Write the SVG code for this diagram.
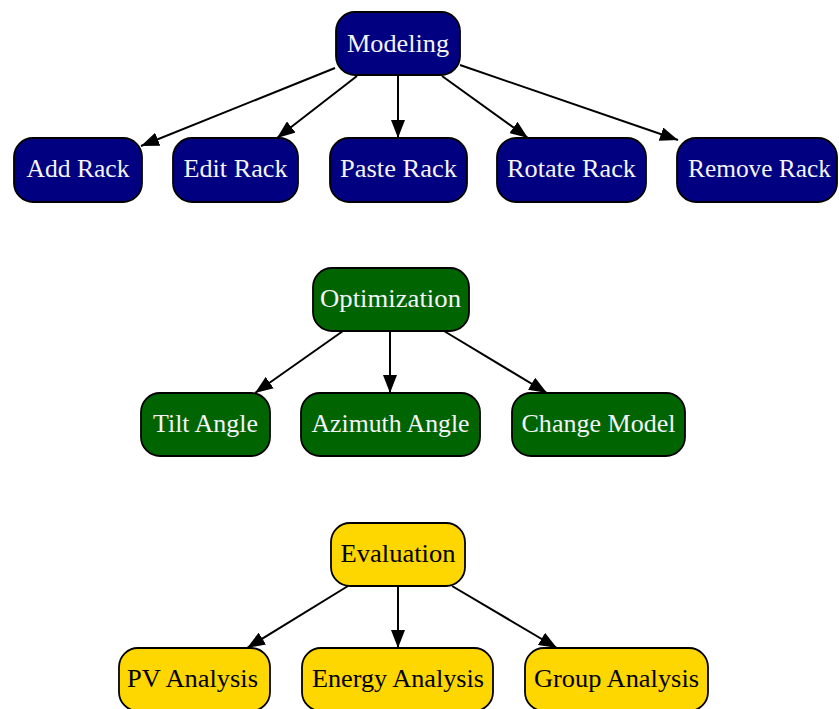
<svg xmlns="http://www.w3.org/2000/svg" width="839" height="709" viewBox="0 0 839 709">
  <defs>
    <marker id="arrow" viewBox="0 0 18 14" refX="18" refY="7" markerWidth="18" markerHeight="14" markerUnits="userSpaceOnUse" orient="auto">
      <path d="M0,0 L18,7 L0,14 Z" fill="#000"/>
    </marker>
  </defs>
  <style>
    rect { stroke: #000; stroke-width: 1.8; }
    .navy rect { fill: #000080; }
    .green rect { fill: #006400; }
    .gold rect { fill: #ffd700; }
    text { font-family: "Liberation Serif", "DejaVu Serif", serif; font-size: 25px; text-anchor: middle; }
    .navy text, .green text { fill: #f4f4f8; }
    .gold text { fill: #000000; }
    .edges line { stroke: #000; stroke-width: 2; marker-end: url(#arrow); }
  </style>
  <rect width="839" height="709" fill="#ffffff" style="stroke:none"/>

  <!-- connectors: each parent fans out to its row of children -->
  <g class="edges">
    <line x1="335" y1="68" x2="141" y2="146"/>
    <line x1="357" y1="76" x2="277" y2="138"/>
    <line x1="398" y1="75" x2="398" y2="138"/>
    <line x1="442" y1="76" x2="528" y2="138"/>
    <line x1="460" y1="65" x2="678" y2="140"/>

    <line x1="343" y1="331" x2="255" y2="393"/>
    <line x1="390" y1="331" x2="390" y2="393"/>
    <line x1="444" y1="331" x2="547" y2="393"/>

    <line x1="348" y1="586" x2="247" y2="648"/>
    <line x1="398" y1="586" x2="398" y2="648"/>
    <line x1="452" y1="586" x2="557" y2="648"/>
  </g>

  <g id="modeling" class="navy">
    <rect x="336" y="12" width="124" height="63" rx="19"/>
    <text x="398" y="52" textLength="102" lengthAdjust="spacingAndGlyphs">Modeling</text>
  </g>
  <g id="add-rack" class="navy">
    <rect x="14" y="138" width="128" height="64" rx="19"/>
    <text x="78" y="177" textLength="103" lengthAdjust="spacingAndGlyphs">Add Rack</text>
  </g>
  <g id="edit-rack" class="navy">
    <rect x="173" y="138" width="125" height="64" rx="19"/>
    <text x="235.5" y="177" textLength="104" lengthAdjust="spacingAndGlyphs">Edit Rack</text>
  </g>
  <g id="paste-rack" class="navy">
    <rect x="330" y="138" width="137" height="64" rx="19"/>
    <text x="398.5" y="177" textLength="117" lengthAdjust="spacingAndGlyphs">Paste Rack</text>
  </g>
  <g id="rotate-rack" class="navy">
    <rect x="497" y="138" width="149" height="64" rx="19"/>
    <text x="571.5" y="177" textLength="129" lengthAdjust="spacingAndGlyphs">Rotate Rack</text>
  </g>
  <g id="remove-rack" class="navy">
    <rect x="677" y="138" width="160" height="64" rx="19"/>
    <text x="759.5" y="177" textLength="143" lengthAdjust="spacingAndGlyphs">Remove Rack</text>
  </g>

  <g id="optimization" class="green">
    <rect x="313" y="268" width="156" height="63" rx="19"/>
    <text x="390.5" y="307" textLength="141" lengthAdjust="spacingAndGlyphs">Optimization</text>
  </g>
  <g id="tilt-angle" class="green">
    <rect x="141" y="393" width="129" height="63" rx="19"/>
    <text x="205.5" y="432" textLength="105" lengthAdjust="spacingAndGlyphs">Tilt Angle</text>
  </g>
  <g id="azimuth-angle" class="green">
    <rect x="301" y="393" width="179" height="63" rx="19"/>
    <text x="390.5" y="432" textLength="158" lengthAdjust="spacingAndGlyphs">Azimuth Angle</text>
  </g>
  <g id="change-model" class="green">
    <rect x="512" y="393" width="173" height="63" rx="19"/>
    <text x="598.5" y="432" textLength="154" lengthAdjust="spacingAndGlyphs">Change Model</text>
  </g>

  <g id="evaluation" class="gold">
    <rect x="331" y="523" width="134" height="63" rx="19"/>
    <text x="398" y="562" textLength="115" lengthAdjust="spacingAndGlyphs">Evaluation</text>
  </g>
  <g id="pv-analysis" class="gold">
    <rect x="119" y="648" width="151" height="63" rx="19"/>
    <text x="192.5" y="687" textLength="131" lengthAdjust="spacingAndGlyphs">PV Analysis</text>
  </g>
  <g id="energy-analysis" class="gold">
    <rect x="302" y="648" width="191" height="63" rx="19"/>
    <text x="398" y="687" textLength="172" lengthAdjust="spacingAndGlyphs">Energy Analysis</text>
  </g>
  <g id="group-analysis" class="gold">
    <rect x="525" y="648" width="183" height="63" rx="19"/>
    <text x="616.5" y="687" textLength="165" lengthAdjust="spacingAndGlyphs">Group Analysis</text>
  </g>
</svg>
